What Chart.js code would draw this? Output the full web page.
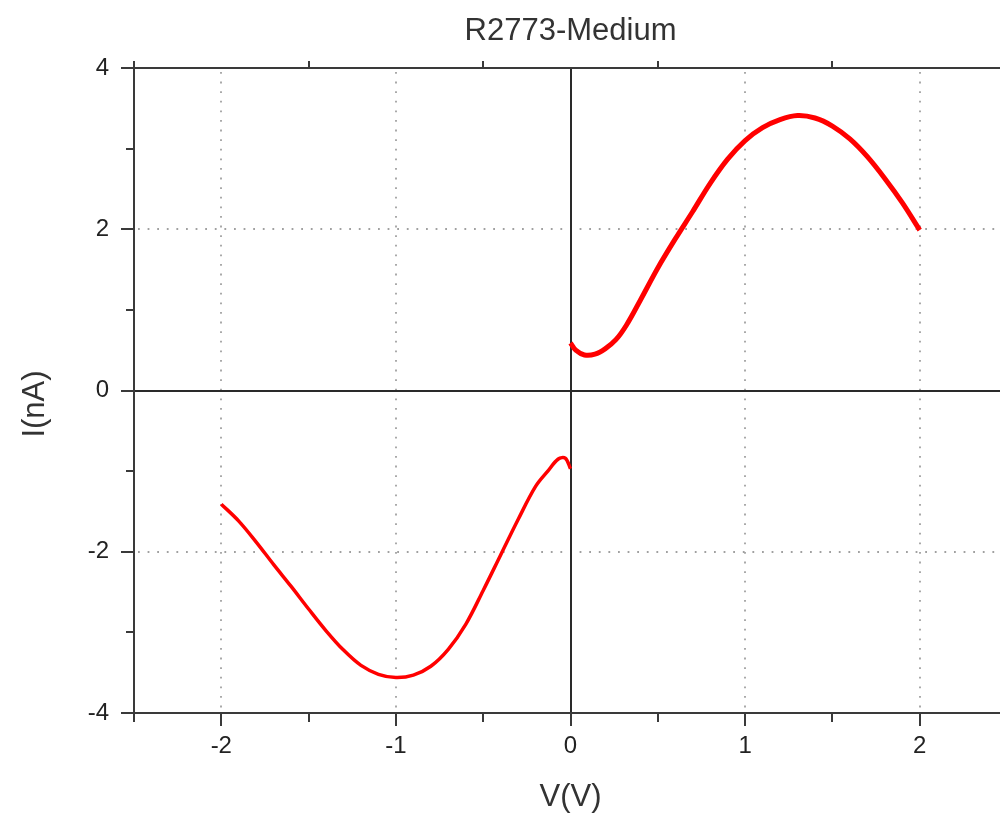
<!DOCTYPE html>
<html>
<head>
<meta charset="utf-8">
<title>R2773-Medium</title>
<script src="https://cdn.jsdelivr.net/npm/chart.js@4.4.1/dist/chart.umd.min.js"></script>
<style>
  html, body { margin: 0; padding: 0; overflow: hidden; background: #ffffff; }
  #wrap { position: relative; width: 1010px; height: 817px; }
</style>
</head>
<body>
<div id="wrap"><canvas id="iv" width="1010" height="817"></canvas></div>
<script>
// I-V sweep, negative bias branch (V, nA)
const voltageNeg = [-2.00, -1.90, -1.80, -1.70, -1.60, -1.50, -1.40, -1.30, -1.20, -1.10,
                    -1.00, -0.90, -0.80, -0.70, -0.60, -0.50, -0.40, -0.30, -0.20, -0.13,
                    -0.07, -0.03, 0.00];
const currentNeg = [-1.41, -1.62, -1.88, -2.16, -2.43, -2.71, -2.98, -3.22, -3.41, -3.52,
                    -3.56, -3.53, -3.42, -3.21, -2.90, -2.48, -2.04, -1.60, -1.19, -1.00,
                    -0.85, -0.84, -0.97];

// I-V sweep, positive bias branch (V, nA)
const voltagePos = [0.00, 0.03, 0.08, 0.14, 0.20, 0.26, 0.32, 0.40, 0.50, 0.60,
                    0.70, 0.80, 0.90, 1.00, 1.10, 1.20, 1.30, 1.40, 1.50, 1.60,
                    1.70, 1.80, 1.90, 2.00];
const currentPos = [0.59, 0.50, 0.44, 0.45, 0.52, 0.63, 0.81, 1.12, 1.52, 1.88,
                    2.22, 2.57, 2.87, 3.10, 3.26, 3.36, 3.41, 3.38, 3.28, 3.12,
                    2.90, 2.63, 2.33, 1.99];

// Axis ticks
const xMajorTicks = [-2, -1, 0, 1, 2];
const xMinorTicks = [-2.5, -1.5, -0.5, 0.5, 1.5, 2.5];
const yMajorTicks = [-4, -2, 0, 2, 4];
const yMinorTicks = [-3, -1, 1, 3];
const xGridValues = [-2, -1, 1, 2];
const yGridValues = [-2, 2];

const chartTitle = 'R2773-Medium';
const xAxisTitle = 'V(V)';
const yAxisTitle = 'I(nA)';

const FONT = '"Liberation Sans", Arial, sans-serif';
const AXIS_COLOR = '#3a3a3a';

const toPoints = (xs, ys) => xs.map((v, i) => ({ x: v, y: ys[i] }));

function seg(ctx, x1, y1, x2, y2) {
  ctx.beginPath();
  ctx.moveTo(x1, y1);
  ctx.lineTo(x2, y2);
  ctx.stroke();
}

// Frame, dotted grid, zero lines, tick marks and axis titles
const framePlugin = {
  id: 'frame',
  beforeDatasetsDraw(chart) {
    const { ctx, chartArea: a, scales: { x, y } } = chart;
    ctx.save();

    // dotted grid
    ctx.strokeStyle = '#a0a0a0';
    ctx.lineWidth = 1.8;
    ctx.setLineDash([1.8, 7.8]);
    xGridValues.forEach(v => {
      const px = Math.round(x.getPixelForValue(v));
      seg(ctx, px, a.top + 4, px, a.bottom);
    });
    yGridValues.forEach(v => {
      const py = Math.round(y.getPixelForValue(v));
      seg(ctx, a.left + 4, py, a.right, py);
    });
    ctx.setLineDash([]);

    // zero lines
    ctx.strokeStyle = '#2a2a2a';
    ctx.lineWidth = 2;
    const x0 = Math.round(x.getPixelForValue(0));
    const y0 = Math.round(y.getPixelForValue(0));
    seg(ctx, x0, a.top, x0, a.bottom);
    seg(ctx, a.left, y0, a.right, y0);

    // frame
    ctx.strokeStyle = AXIS_COLOR;
    ctx.lineWidth = 2;
    ctx.strokeRect(a.left, a.top, a.right - a.left, a.bottom - a.top);

    // tick marks
    yMajorTicks.forEach(v => {
      const py = Math.round(y.getPixelForValue(v));
      seg(ctx, a.left - 13, py, a.left, py);
    });
    yMinorTicks.forEach(v => {
      const py = Math.round(y.getPixelForValue(v));
      seg(ctx, a.left - 8, py, a.left, py);
    });
    xMajorTicks.forEach(v => {
      const px = Math.round(x.getPixelForValue(v));
      seg(ctx, px, a.bottom, px, a.bottom + 13);
    });
    xMinorTicks.forEach(v => {
      const px = Math.round(x.getPixelForValue(v));
      seg(ctx, px, a.bottom, px, a.bottom + 9);
      seg(ctx, px, a.top - 7, px, a.top);
    });
    ctx.restore();
  },
  afterDraw(chart) {
    const { ctx, chartArea: a } = chart;
    ctx.save();
    ctx.fillStyle = '#333333';
    ctx.font = '31px ' + FONT;
    ctx.textAlign = 'center';
    ctx.textBaseline = 'middle';
    ctx.fillText(xAxisTitle, (a.left + a.right) / 2, 797);
    ctx.translate(35, 404);
    ctx.rotate(-Math.PI / 2);
    ctx.fillText(yAxisTitle, 0, 0);
    ctx.restore();
  }
};

new Chart(document.getElementById('iv'), {
  type: 'line',
  data: {
    datasets: [
      {
        label: 'V < 0',
        data: toPoints(voltageNeg, currentNeg),
        borderColor: '#ff0000',
        backgroundColor: '#ff0000',
        borderWidth: 3.5,
        pointRadius: 0,
        tension: 0.35,
        fill: false
      },
      {
        label: 'V > 0',
        data: toPoints(voltagePos, currentPos),
        borderColor: '#ff0000',
        backgroundColor: '#ff0000',
        borderWidth: 5,
        pointRadius: 0,
        tension: 0.35,
        fill: false
      }
    ]
  },
  options: {
    responsive: false,
    animation: false,
    devicePixelRatio: 1,
    layout: { padding: { left: 0, right: 3, top: 0, bottom: 0 } },
    plugins: {
      legend: { display: false },
      tooltip: { enabled: false },
      title: {
        display: true,
        text: chartTitle,
        fullSize: false,
        color: '#333333',
        font: { family: FONT, size: 31, weight: 'normal' },
        padding: { top: 13, bottom: 17.8 }
      }
    },
    scales: {
      x: {
        type: 'linear',
        position: 'bottom',
        min: -2.5,
        max: 2.5,
        afterBuildTicks(scale) { scale.ticks = xMajorTicks.map(v => ({ value: v })); },
        afterFit(scale) { scale.height = 104; },
        ticks: {
          color: '#222222',
          font: { family: FONT, size: 24 },
          padding: 6,
          maxRotation: 0
        },
        grid: { display: true, color: 'rgba(0,0,0,0)', drawOnChartArea: false, drawTicks: true, tickLength: 13 },
        border: { display: false }
      },
      y: {
        type: 'linear',
        position: 'left',
        min: -4,
        max: 4,
        afterBuildTicks(scale) { scale.ticks = yMajorTicks.map(v => ({ value: v })); },
        afterFit(scale) { scale.width = 134; },
        ticks: {
          color: '#222222',
          font: { family: FONT, size: 24 },
          padding: 12
        },
        grid: { display: true, color: 'rgba(0,0,0,0)', drawOnChartArea: false, drawTicks: true, tickLength: 13 },
        border: { display: false }
      }
    }
  },
  plugins: [framePlugin]
});
</script>
</body>
</html>
